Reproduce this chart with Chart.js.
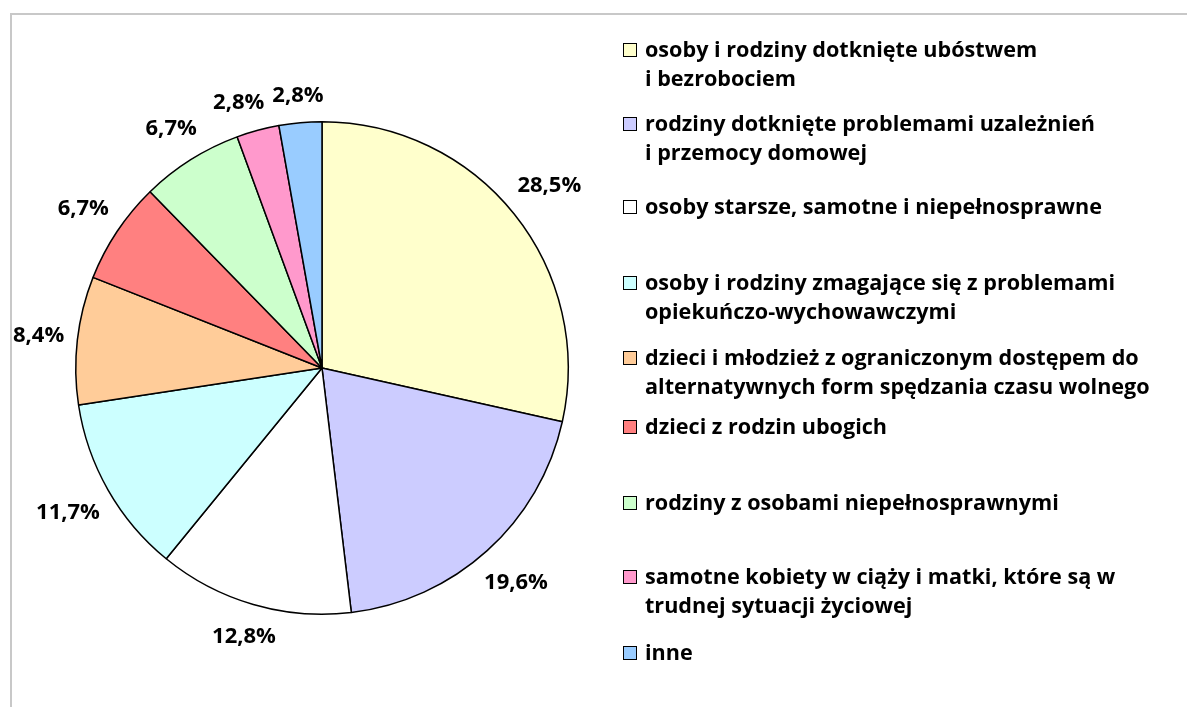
<!DOCTYPE html>
<html lang="pl">
<head>
<meta charset="utf-8">
<script src="https://cdn.jsdelivr.net/npm/chart.js@4"></script>
<style>
  html, body { margin: 0; padding: 0; background: #fff; }
  .wrap { position: relative; width: 1187px; height: 707px; overflow: hidden; }
  .frame { position: absolute; left: 10px; top: 13px; width: 1300px; height: 800px;
           border-top: 2px solid #c8c8c8; border-left: 2px solid #c8c8c8; }
  .chart-box { position: absolute; left: 0; top: 0; width: 1187px; height: 707px; }
  .legend { position: absolute; left: 0; top: 0; font-family: "Open Sans", Lato, sans-serif;
            font-weight: bold; font-size: 21.6px; color: #000; }
  .legend-item { position: absolute; left: 623px; white-space: nowrap; }
  .legend-item .box { position: absolute; left: 0; top: 0; width: 12px; height: 12px;
                      border: 1px solid #000; }
  .legend-item .txt { position: absolute; left: 22px; top: -9px; line-height: 29px; }
</style>
</head>
<body>
<div class="wrap">
  <div class="frame"></div>
  <div class="chart-box"><canvas class="pie-chart"></canvas></div>
  <div class="legend"></div>
</div>
<script>
// dane
const kategorie = [
  "osoby i rodziny dotknięte ubóstwem\ni bezrobociem",
  "rodziny dotknięte problemami uzależnień\ni przemocy domowej",
  "osoby starsze, samotne i niepełnosprawne",
  "osoby i rodziny zmagające się z problemami\nopiekuńczo-wychowawczymi",
  "dzieci i młodzież z ograniczonym dostępem do\nalternatywnych form spędzania czasu wolnego",
  "dzieci z rodzin ubogich",
  "rodziny z osobami niepełnosprawnymi",
  "samotne kobiety w ciąży i matki, które są w\ntrudnej sytuacji życiowej",
  "inne"
];
const procenty = [28.5, 19.6, 12.8, 11.7, 8.4, 6.7, 6.7, 2.8, 2.8];
const kolory = ["#FFFFCC", "#CCCCFF", "#FFFFFF", "#CCFFFF", "#FFCC99", "#FF8080", "#CCFFCC", "#FF99CC", "#99CCFF"];

// pozycje legendy (gorna krawedz kwadracika)
const legendaTop = [43, 117, 200, 276, 351, 420, 496, 570, 646];

const legend = document.querySelector('.legend');
for (let i = 0; i < kategorie.length; i++) {
  const item = document.createElement('div');
  item.className = 'legend-item';
  item.style.top = legendaTop[i] + 'px';
  const box = document.createElement('div');
  box.className = 'box';
  box.style.background = kolory[i];
  const txt = document.createElement('div');
  txt.className = 'txt';
  txt.innerHTML = kategorie[i].split('\n').join('<br>');
  item.appendChild(box);
  item.appendChild(txt);
  legend.appendChild(item);
}

function formatPct(v) {
  return v.toFixed(1).replace('.', ',') + '%';
}

function overlaps(a, b) {
  return a.x1 < b.x2 && a.x2 > b.x1 && a.y1 < b.y2 && a.y2 > b.y1;
}

// etykiety procentowe na zewnatrz kola
const etykiety = {
  id: 'etykiety',
  afterDatasetsDraw(chart) {
    const ctx = chart.ctx;
    const meta = chart.getDatasetMeta(0);
    ctx.save();
    ctx.font = 'bold 22px "Open Sans", Lato, sans-serif';
    ctx.fillStyle = '#000';
    ctx.textAlign = 'center';
    ctx.textBaseline = 'middle';
    const placed = [];
    // od ostatniego wycinka, zeby male etykiety u gory sie nie nakladaly
    for (let i = meta.data.length - 1; i >= 0; i--) {
      const p = meta.data[i].getProps(['x', 'y', 'startAngle', 'endAngle', 'outerRadius'], true);
      const txt = formatPct(procenty[i]);
      const w = ctx.measureText(txt).width;
      const h = 26;
      let ang = (p.startAngle + p.endAngle) / 2;
      let box;
      for (let k = 0; k < 60; k++) {
        const ext = Math.abs(Math.cos(ang)) * w / 2 + Math.abs(Math.sin(ang)) * h / 2;
        const d = p.outerRadius + 12 + ext;
        const cx = p.x + Math.cos(ang) * d;
        const cy = p.y + Math.sin(ang) * d;
        box = { cx: cx, cy: cy, x1: cx - w / 2 - 4, x2: cx + w / 2 + 4, y1: cy - 10, y2: cy + 10 };
        if (!placed.some(b => overlaps(b, box))) break;
        ang -= 0.01;
      }
      placed.push(box);
      ctx.fillText(txt, box.cx, box.cy);
    }
    ctx.restore();
  }
};

const chart = document.querySelector('.pie-chart');
new Chart(chart, {
  type: 'pie',
  data: {
    labels: kategorie,
    datasets: [{
      data: procenty,
      backgroundColor: kolory,
      borderColor: '#000',
      borderWidth: 1.5
    }]
  },
  options: {
    responsive: true,
    maintainAspectRatio: false,
    animation: false,
    layout: {
      padding: { left: 75, right: 618, top: 121, bottom: 92 }
    },
    plugins: {
      legend: { display: false },
      tooltip: { enabled: false }
    }
  },
  plugins: [etykiety]
});
</script>
</body>
</html>
